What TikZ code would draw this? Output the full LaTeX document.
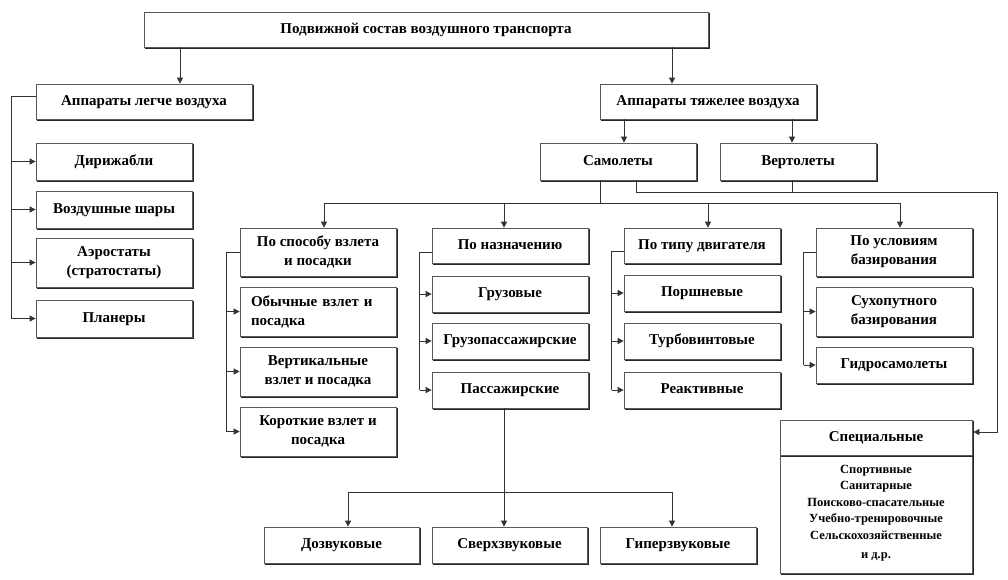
\documentclass[tikz,border=0pt]{standalone}
\usepackage{fontspec}
\setmainfont{Liberation Serif}
\usetikzlibrary{arrows.meta}
\begin{document}
\begin{tikzpicture}[x=1pt,y=-1pt,
  bx/.style={draw=black!65, line width=0.7pt, fill=white, rectangle, inner sep=0pt, align=center,
    font=\fontsize{15}{19}\selectfont\bfseries},
  one/.style={text height=10.5pt, text depth=3.5pt},
  sw/.style={minimum width=156pt},
  h1/.style={minimum height=36pt, one},
  h2/.style={minimum height=49pt},
  shd/.style={draw=black!85, line width=1.1pt},
  ln/.style={draw=black!80, line width=0.7pt},
  ar/.style={ln, -{Triangle[length=6pt,width=6pt]}}]
\useasboundingbox[fill=white] (0,0) rectangle (1008,579);

% top levels
\node[bx, one, minimum width=564pt, minimum height=35pt] (top) at (426,29.5) {Подвижной состав воздушного транспорта};
\node[bx, one, minimum width=216pt, minimum height=35pt] (legche) at (144,101.5) {Аппараты легче воздуха};
\node[bx, one, minimum width=216pt, minimum height=35pt] (tyazh) at (708,101.5) {Аппараты тяжелее воздуха};
\node[bx, one, sw, minimum height=37pt] (samol) at (618,161.5) {Самолеты};
\node[bx, one, sw, minimum height=37pt] (vert) at (798,161.5) {Вертолеты};

% left column
\node[bx, one, sw, minimum height=37pt] (dir) at (114,161.5) {Дирижабли};
\node[bx, one, sw, minimum height=37pt] (shar) at (114,209.5) {Воздушные шары};
\node[bx, sw, h2] (aero) at (114,262.5) {Аэростаты\\(стратостаты)};
\node[bx, one, sw, minimum height=37pt] (plan) at (114,318.5) {Планеры};

% categories
\node[bx, sw, minimum height=48pt] (cat1) at (318,252) {По способу взлета\\и посадки};
\node[bx, one, sw, minimum height=35pt] (cat2) at (510,245.5) {По назначению};
\node[bx, one, sw, minimum height=35pt] (cat3) at (702,245.5) {По типу двигателя};
\node[bx, sw, minimum height=48pt] (cat4) at (894,252) {По условиям\\базирования};

% column 1
\node[bx, minimum height=49pt, text width=134pt, inner xsep=11pt, align=left] (obych) at (318,311.5) {Обычные взлет и\\посадка};
\node[bx, sw, h2] (vertik) at (318,371.5) {Вертикальные\\взлет и посадка};
\node[bx, sw, h2] (korot) at (318,431.5) {Короткие взлет и\\посадка};

% column 2
\node[bx, sw, h1] (gruz) at (510,294) {Грузовые};
\node[bx, sw, h1] (gruzpass) at (510,341) {Грузопассажирские};
\node[bx, sw, h1] (pass) at (510,390) {Пассажирские};

% column 3
\node[bx, sw, h1] (porsh) at (702,293) {Поршневые};
\node[bx, sw, h1] (turbo) at (702,341) {Турбовинтовые};
\node[bx, sw, h1] (reakt) at (702,390) {Реактивные};

% column 4
\node[bx, sw, h2] (suhop) at (894,311.5) {Сухопутного\\базирования};
\node[bx, sw, h1] (gidro) at (894,365) {Гидросамолеты};

% special
\node[bx, minimum width=192pt, minimum height=120pt, font=\fontsize{12.5}{16.5}\selectfont\bfseries] (body) at (876,513)
  {Спортивные\\Санитарные\\Поисково-спасательные\\Учебно-тренировочные\\Сельскохозяйственные\\[3pt]и д.р.};
\node[bx, one, minimum width=192pt, minimum height=35pt] (special) at (876,437.5) {Специальные};

% bottom
\node[bx, minimum width=155pt, h1] (dozv) at (341.5,545) {Дозвуковые};
\node[bx, minimum width=155pt, h1] (sverh) at (509.5,545) {Сверхзвуковые};
\node[bx, sw, h1] (giper) at (678,545) {Гиперзвуковые};

% shadows (bottom and right edges)
\foreach \n in {top,legche,tyazh,samol,vert,dir,shar,aero,plan,cat1,cat2,cat3,cat4,obych,vertik,korot,gruz,gruzpass,pass,porsh,turbo,reakt,suhop,gidro,body,special,dozv,sverh,giper}
  \draw[shd] ([xshift=1pt,yshift=-0.9pt]\n.south west) -- ([xshift=0.9pt,yshift=-0.9pt]\n.south east) -- ([xshift=0.9pt,yshift=-1pt]\n.north east);

% connectors: top level
\draw[ar] ([xshift=-246pt]top.south) -- ([xshift=36pt]legche.north);
\draw[ar] ([xshift=246pt]top.south) -- ([xshift=-36pt]tyazh.north);
\draw[ar] ([xshift=-84pt]tyazh.south) -- ([xshift=6pt]samol.north);
\draw[ar] ([xshift=84pt]tyazh.south) -- ([xshift=-6pt]vert.north);

% left bracket
\draw[ln] ([yshift=5.5pt]legche.west) -| ([xshift=-24pt]plan.west);
\foreach \n in {dir,shar,aero,plan} \draw[ar] ([xshift=-24pt]\n.west) -- (\n.west);

% bus to categories
\draw[ar] ([xshift=-18pt]samol.south) -- ++(0,23) -| ([xshift=6pt]cat1.north);
\draw[ar] ([xshift=-18pt]samol.south) -- ++(0,23) -| ([xshift=-6pt]cat2.north);
\draw[ar] ([xshift=-18pt]samol.south) -- ++(0,23) -| ([xshift=6pt]cat3.north);
\draw[ar] ([xshift=-18pt]samol.south) -- ++(0,23) -| ([xshift=6pt]cat4.north);

% line to special
\draw[ar] ([xshift=18pt]samol.south) -- ++(0,12) -| ([xshift=25pt,yshift=5.5pt]special.east) -- ([xshift=1pt,yshift=5.5pt]special.east);
\draw[ln] ([xshift=-6pt]vert.south) -- ++(0,12);

% brackets
\draw[ln] (cat1.west) -| ([xshift=-13pt]korot.west);
\foreach \n in {obych,vertik,korot} \draw[ar] ([xshift=-13pt]\n.west) -- (\n.west);
\draw[ln] ([yshift=-6.5pt]cat2.west) -| ([xshift=-12pt]pass.west);
\foreach \n in {gruz,gruzpass,pass} \draw[ar] ([xshift=-12pt]\n.west) -- (\n.west);
\draw[ln] ([yshift=-5.5pt]cat3.west) -| ([xshift=-12pt]reakt.west);
\foreach \n in {porsh,turbo,reakt} \draw[ar] ([xshift=-12pt]\n.west) -- (\n.west);
\draw[ln] (cat4.west) -| ([xshift=-12pt]gidro.west);
\foreach \n in {suhop,gidro} \draw[ar] ([xshift=-12pt]\n.west) -- (\n.west);

% bottom tree
\draw[ar] ([xshift=-6pt]pass.south) -- ([xshift=-5.5pt]sverh.north);
\draw[ar] ([xshift=-6pt]pass.south) -- ++(0,84) -| ([xshift=6.5pt]dozv.north);
\draw[ar] ([xshift=-6pt]pass.south) -- ++(0,84) -| ([xshift=-6pt]giper.north);
\end{tikzpicture}
\end{document}
